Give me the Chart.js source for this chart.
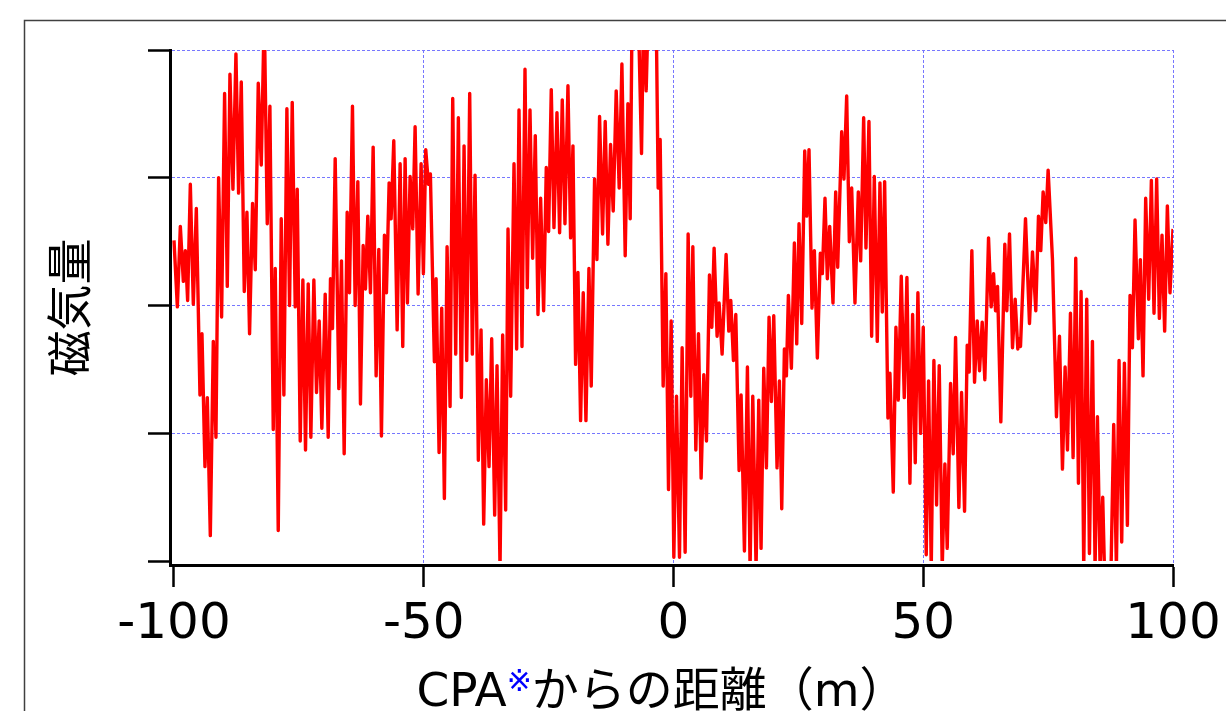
<!DOCTYPE html>
<html lang="ja">
<head>
<meta charset="utf-8">
<title>磁気量</title>
<script src="https://cdn.jsdelivr.net/npm/chart.js"></script>
<style>
  html, body { margin: 0; padding: 0; background: #fff; overflow: hidden; }
  canvas { display: block; }
</style>
</head>
<body>
<canvas id="grafico" width="1226" height="711"></canvas>
<script>
// distancia desde CPA (m) y magnitud
const distancia = [
  -100, -99.33, -98.73, -98.13, -97.73, -97.27, -96.73, -96.13, -95.53, -94.8, -94.4, -93.8, -93.33, -92.73, -92.13, -91.6,
  -91.07, -90.47, -89.87, -89.33, -88.8, -88.2, -87.6, -87.07, -86.53, -85.93, -85.4, -84.87, -84.27, -83.73, -83.13, -82.53,
  -81.93, -81.33, -80.8, -80.13, -79.73, -79.13, -78.53, -78.0, -77.4, -76.87, -76.33, -75.73, -75.33, -74.73, -74.2, -73.67,
  -73.13, -72.6, -72.0, -71.47, -70.93, -70.4, -69.73, -69.13, -68.67, -68.27, -67.73,
  -67.0, -66.47, -65.93, -65.33, -64.87, -64.27, -63.73, -63.2, -62.67, -62.13, -61.67, -61.2, -60.67, -60.13, -59.53, -59.0,
  -58.47, -57.87, -57.47, -56.93, -56.53, -56.0, -55.33, -54.73, -54.2, -53.73, -53.27, -52.73, -52.2, -51.73, -51.13, -50.53,
  -50.07, -49.6, -49.07, -48.67, -47.87, -47.53, -46.93, -46.4, -45.87, -45.33, -44.73, -44.2, -43.6, -43.07, -42.47, -41.93,
  -41.4, -40.8, -40.27, -39.73, -39.07, -38.53, -38.0, -37.47, -36.93, -36.4, -35.8, -35.33, -34.73, -34.2,
  -33.6, -33.13, -32.6, -31.93, -31.4, -30.93, -30.33, -29.73, -29.27, -28.73, -28.2, -27.67, -27.13, -26.6, -26.0, -25.47,
  -25.0, -24.47, -23.93, -23.33, -22.8, -22.27, -21.73, -21.13, -20.6, -20.13, -19.6, -19.13, -18.6, -18.07, -17.53, -16.93,
  -16.47, -15.8, -15.33, -14.8, -14.2, -13.67, -13.13, -12.6, -12.07, -11.47, -10.87, -10.33, -9.67, -9.13, -8.67, -8.33,
  -7.07, -6.4, -6.0, -5.47, -5.07, -4.27, -3.47, -3.07, -2.67, -2.07, -1.53, -1.0, -0.47,
  0.07, 0.6, 1.2, 1.73, 2.33, 2.93, 3.47, 3.87, 4.47, 5.0, 5.53, 6.07, 6.6, 7.2, 7.67, 8.13,
  8.73, 9.13, 9.73, 10.53, 11.07, 11.47, 12.0, 12.47, 13.13, 13.53, 14.2, 14.8, 15.33, 15.87, 16.53, 17.07,
  17.53, 18.07, 18.6, 19.13, 19.6, 20.07, 20.73, 21.2, 21.67, 22.2, 22.6, 23.0, 23.6, 24.2, 24.67, 25.13,
  25.67, 26.27, 26.67, 27.13, 27.73, 28.2, 28.8, 29.4, 29.8, 30.33, 30.8, 31.27, 31.93, 32.47, 32.87,
  33.67, 34.13, 34.67, 35.2, 35.67, 36.33, 37.0, 37.47, 38.07, 38.53, 39.13, 39.67, 40.2, 40.8, 41.33, 41.8,
  42.27, 42.93, 43.33, 44.0, 44.53, 45.0, 45.6, 46.2, 46.73, 47.33, 47.87, 48.4, 48.93, 49.47, 50.0, 50.6,
  51.07, 51.6, 52.13, 52.67, 53.2, 53.8, 54.33, 54.8, 55.47, 56.0, 56.47, 57.13, 57.67, 58.27, 58.8, 59.2,
  59.73, 60.27, 60.8, 61.27, 61.8, 62.33, 63.07, 63.6, 64.07, 64.47, 64.87, 65.53, 66.33, 66.73,
  67.27, 67.87, 68.4, 68.93, 69.2, 69.47, 70.47, 71.27, 71.87, 72.53, 73.07, 73.53, 74.0, 74.53, 75.0, 75.87,
  76.67, 77.27, 77.87, 78.4, 78.87, 79.47, 80.0, 80.53, 81.07, 81.6, 82.13, 82.73, 83.27, 83.87, 84.4, 84.87,
  85.4, 85.93, 86.27, 86.93, 87.6, 88.13, 88.67, 89.2, 89.73, 90.27, 90.87, 91.4, 91.87, 92.4, 93.07, 93.47,
  94.0, 94.53, 95.13, 95.67, 96.2, 96.73, 97.27, 97.8, 98.33, 98.87, 99.4, 100
];

const magnitud = [
  2.51, 1.99, 2.62, 2.19, 2.43, 2.04, 2.95, 2.01, 2.76, 1.30, 1.78, 0.74, 1.28, 0.20, 1.72, 0.97,
  3.00, 1.91, 3.66, 2.15, 3.81, 2.91, 3.97, 2.88, 3.75, 2.11, 2.73, 1.78, 2.80, 2.28, 3.74, 3.10,
  4.30, 2.64, 3.56, 1.03, 2.29, 0.24, 2.68, 1.30, 3.54, 2.00, 3.59, 1.99, 2.91, 0.94, 2.20, 0.87,
  2.17, 0.97, 2.20, 1.32, 1.88, 1.04, 2.09, 0.97, 2.21, 1.82, 3.15,
  1.35, 2.35, 0.84, 2.73, 2.10, 3.56, 2.00, 2.97, 1.23, 2.47, 2.13, 2.70, 2.10, 3.24, 1.45, 2.44,
  0.98, 2.55, 2.10, 2.96, 2.68, 3.29, 1.81, 3.11, 1.68, 3.15, 2.02, 3.01, 2.60, 3.40, 2.09, 3.11,
  2.25, 3.22, 2.95, 3.03, 1.56, 2.21, 0.85, 1.98, 0.49, 2.46, 1.21, 3.62, 1.62, 3.47, 1.28, 3.25,
  1.57, 3.66, 1.62, 3.02, 0.79, 1.81, 0.29, 1.42, 0.74, 1.74, 0.36, 1.53, -0.05, 1.77,
  0.40, 2.60, 1.29, 3.11, 1.66, 3.53, 1.68, 3.85, 2.14, 3.53, 2.37, 3.33, 1.93, 2.84, 1.96, 3.08,
  2.58, 3.69, 2.61, 3.51, 2.57, 3.61, 2.64, 3.72, 2.53, 3.25, 1.54, 2.26, 1.10, 2.10, 1.10, 2.29,
  1.37, 2.99, 2.36, 3.48, 2.56, 3.44, 2.48, 3.26, 2.74, 3.68, 2.92, 3.89, 2.39, 3.58, 2.68, 4.15,
  4.35, 3.19, 4.30, 3.68, 4.30, 4.60, 4.30, 2.92, 3.30, 1.37, 2.25, 0.56, 1.88,
  0.03, 1.29, 0.03, 1.67, 0.07, 2.56, 1.29, 2.46, 0.87, 1.78, 0.65, 1.46, 0.94, 2.24, 1.83, 2.45,
  1.76, 2.02, 1.62, 2.40, 1.80, 2.04, 1.57, 1.93, 0.71, 1.30, 0.08, 1.52, -0.05, 1.29, -0.05, 1.26,
  0.10, 1.51, 0.73, 1.91, 1.25, 1.92, 0.73, 1.41, 0.41, 1.66, 1.45, 2.08, 1.51, 2.49, 1.70, 2.64,
  1.86, 3.21, 2.70, 3.22, 1.98, 2.43, 1.59, 2.41, 2.25, 2.84, 2.21, 2.62, 2.02, 2.89, 2.30,
  3.36, 2.99, 3.64, 2.50, 2.92, 2.02, 2.89, 2.35, 3.47, 2.45, 3.44, 1.76, 3.01, 1.72, 2.96, 1.95,
  2.97, 1.12, 1.47, 0.54, 1.83, 1.26, 2.23, 1.28, 2.22, 0.61, 1.93, 0.77, 2.10, 1.00, 1.83, 0.05,
  1.41, -0.05, 1.57, 0.44, 1.53, -0.05, 0.76, 0.10, 1.39, 0.84, 1.75, 0.42, 1.32, 0.39, 1.69, 1.48,
  2.43, 1.40, 1.88, 1.49, 1.87, 1.42, 2.53, 1.99, 2.25, 1.96, 2.15, 1.09, 2.48, 1.96,
  2.56, 1.67, 2.05, 1.66, 1.74, 1.68, 2.68, 1.86, 2.42, 1.96, 2.70, 2.43, 2.89, 2.65, 3.06, 2.36,
  1.13, 1.76, 0.72, 1.52, 0.87, 1.94, 0.81, 2.37, 0.61, 2.11, -0.05, 2.05, 0.06, 1.72, -0.05, 1.13,
  -0.05, 0.50, -0.05, -0.40, -0.05, 1.07, -0.05, 1.57, 0.15, 1.55, 0.28, 2.08, 1.67, 2.67, 1.74, 2.36,
  1.45, 2.84, 2.05, 2.98, 1.94, 2.99, 1.90, 2.55, 1.80, 2.78, 2.10, 2.60
];

// marcas de los ejes
const ticksX = [-100, -50, 0, 50, 100];
const ticksY = [0, 1, 2, 3, 4];

const FUENTE = "'DejaVu Sans', 'Noto Sans CJK JP', sans-serif";
const AZUL_GRILLA = '#7676ff';

// marco exterior y fondo blanco
const marco = {
  id: 'marco',
  beforeDraw(chart) {
    const ctx = chart.ctx;
    ctx.save();
    ctx.fillStyle = '#fff';
    ctx.fillRect(0, 0, chart.width, chart.height);
    ctx.strokeStyle = '#404040';
    ctx.lineWidth = 1.5;
    ctx.strokeRect(24.5, 20.5, 1300, 800);
    ctx.restore();
  }
};

// título del eje X con el ※ en azul
const tituloX = {
  id: 'tituloX',
  afterDraw(chart) {
    const { ctx, chartArea } = chart;
    const partes = [
      { text: 'CPA', size: 47, color: '#000', rise: 0 },
      { text: '※', size: 30, color: '#0000ff', rise: 15 },
      { text: 'からの距離（m）', size: 47, color: '#000', rise: 0 }
    ];
    ctx.save();
    ctx.textBaseline = 'alphabetic';
    ctx.textAlign = 'left';
    let total = 0;
    partes.forEach(p => {
      ctx.font = `${p.size}px ${FUENTE}`;
      p.w = ctx.measureText(p.text).width;
      total += p.w;
    });
    let x = (chartArea.left + chartArea.right) / 2 - total / 2 - 10;
    const y = chartArea.bottom + 141;
    partes.forEach(p => {
      ctx.font = `${p.size}px ${FUENTE}`;
      ctx.fillStyle = p.color;
      ctx.fillText(p.text, x, y - p.rise);
      x += p.w;
    });
    ctx.restore();
  }
};

const puntos = distancia.map((d, i) => ({ x: d, y: magnitud[i] }));

new Chart(document.getElementById('grafico'), {
  type: 'line',
  data: {
    datasets: [{
      label: '磁気量',
      data: puntos,
      borderColor: '#ff0000',
      borderWidth: 3.4,
      borderJoinStyle: 'round',
      pointRadius: 0,
      tension: 0,
      fill: false,
      clip: { left: 0, top: 0, right: 0, bottom: -4 }
    }]
  },
  options: {
    responsive: false,
    animation: false,
    devicePixelRatio: 1,
    layout: { padding: { left: 24, right: 53, top: 50, bottom: 48 } },
    plugins: {
      legend: { display: false },
      tooltip: { enabled: false }
    },
    scales: {
      x: {
        type: 'linear',
        min: -100.8,
        max: 100,
        afterBuildTicks: scale => { scale.ticks = ticksX.map(v => ({ value: v })); },
        grid: {
          color: c => (c.tick && c.tick.value === -100) ? 'rgba(0,0,0,0)' : AZUL_GRILLA,
          lineWidth: 1,
          tickColor: '#000',
          tickWidth: 2.5,
          tickLength: 22
        },
        border: { color: '#000', width: 3, dash: [3, 2] },
        ticks: {
          color: '#000',
          font: { family: FUENTE, size: 50, lineHeight: 1.4 },
          padding: 3,
          maxRotation: 0,
          autoSkip: false
        }
      },
      y: {
        min: -0.03,
        max: 4,
        afterBuildTicks: scale => { scale.ticks = ticksY.map(v => ({ value: v })); },
        grid: {
          color: c => (c.tick && c.tick.value === 0) ? 'rgba(0,0,0,0)' : AZUL_GRILLA,
          lineWidth: 1,
          tickColor: '#000',
          tickWidth: 2.5,
          tickLength: 22
        },
        border: { color: '#000', width: 3, dash: [3, 2] },
        ticks: { display: false },
        title: {
          display: true,
          text: '磁気量',
          color: '#000',
          font: { family: FUENTE, size: 46, lineHeight: 1.2 },
          padding: { top: 22.4, bottom: 46.4 }
        }
      }
    }
  },
  plugins: [marco, tituloX]
});
</script>
</body>
</html>
